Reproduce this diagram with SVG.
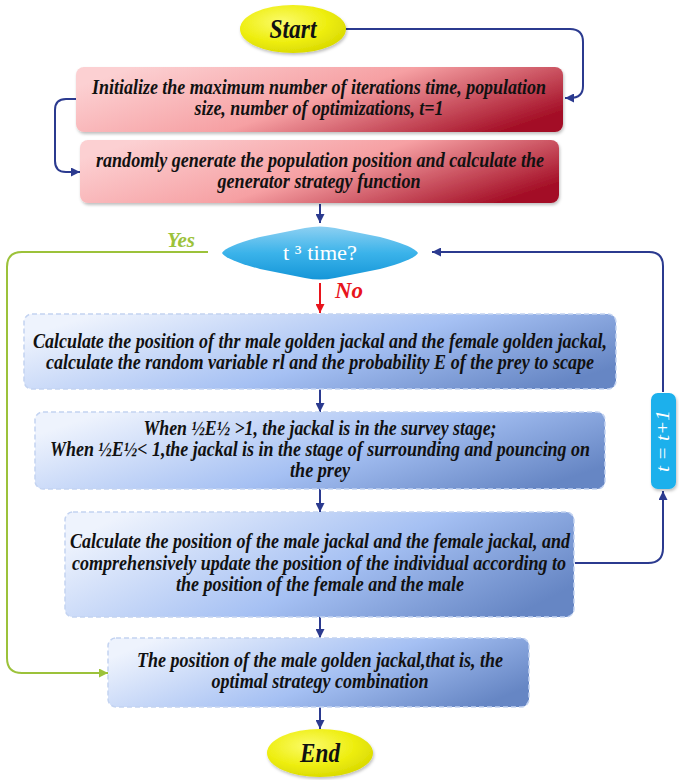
<svg xmlns="http://www.w3.org/2000/svg" width="685" height="780" viewBox="0 0 685 780">
<defs>
<radialGradient id="gY" cx="0.4" cy="0.35" r="0.7">
<stop offset="0" stop-color="#fbfb6a"/>
<stop offset="0.6" stop-color="#eeee10"/>
<stop offset="1" stop-color="#d8d800"/>
</radialGradient>
<linearGradient id="gR" x1="0" y1="0.3" x2="1" y2="0.7">
<stop offset="0" stop-color="#fcd0d2"/>
<stop offset="0.5" stop-color="#f6a0a3"/>
<stop offset="1" stop-color="#a30d25"/>
</linearGradient>
<linearGradient id="gB" x1="0" y1="0.3" x2="1" y2="0.7">
<stop offset="0" stop-color="#eef3fd"/>
<stop offset="0.55" stop-color="#a5c0f3"/>
<stop offset="1" stop-color="#6686c4"/>
</linearGradient>
<linearGradient id="gD" x1="0" y1="0" x2="0" y2="1">
<stop offset="0" stop-color="#8dd0f2"/>
<stop offset="0.5" stop-color="#3bb3ea"/>
<stop offset="1" stop-color="#1596d8"/>
</linearGradient>
<marker id="aN" viewBox="0 0 10 10" refX="10" refY="5" markerWidth="4.5" markerHeight="4.5" orient="auto" markerUnits="strokeWidth">
<path d="M0,0 L10,5 L0,10 z" fill="#2b3a8f"/>
</marker>
<marker id="aG" viewBox="0 0 10 10" refX="10" refY="5" markerWidth="4.5" markerHeight="4.5" orient="auto" markerUnits="strokeWidth">
<path d="M0,0 L10,5 L0,10 z" fill="#9cc23a"/>
</marker>
<marker id="aRd" viewBox="0 0 10 10" refX="10" refY="5" markerWidth="4.5" markerHeight="4.5" orient="auto" markerUnits="strokeWidth">
<path d="M0,0 L10,5 L0,10 z" fill="#e8141c"/>
</marker>
<filter id="sh" x="-10%" y="-10%" width="120%" height="130%">
<feDropShadow dx="1" dy="2" stdDeviation="1.5" flood-color="#000" flood-opacity="0.25"/>
</filter>
</defs>
<style>
.t{font-family:"Liberation Serif","Times New Roman",serif;font-weight:bold;font-style:italic;font-size:20px;fill:#111;text-anchor:middle}
.big{font-size:27px}
.red{fill:url(#gR)}
.blue{fill:url(#gB);stroke:#c3d3f1;stroke-width:1.5;stroke-dasharray:5 3}
.c{fill:none;stroke:#2b3a8f;stroke-width:2}
</style>
<rect width="685" height="780" fill="#fff"/>
<g id="connectors">
<path class="c" d="M345,29 H570 Q583,29 583,42 V86 Q583,98 570,98 H565" marker-end="url(#aN)"/>
<path class="c" d="M76,99 H66 Q55,99 55,110 V161 Q55,172 66,172 H80" marker-end="url(#aN)"/>
<path class="c" d="M320,204 V223" marker-end="url(#aN)"/>
<path fill="none" stroke="#9cc23a" stroke-width="2" d="M208,252 H22 Q7,252 7,267 V658 Q7,673 22,673 H108" marker-end="url(#aG)"/>
<path fill="none" stroke="#e8141c" stroke-width="2" d="M320,283 V313" marker-end="url(#aRd)"/>
<path class="c" d="M663,392 V266 Q663,252 649,252 H432" marker-end="url(#aN)"/>
<path class="c" d="M575,563 H648 Q663,563 663,548 V491" marker-end="url(#aN)"/>
<path class="c" d="M320,389 V412" marker-end="url(#aN)"/>
<path class="c" d="M320,489 V512" marker-end="url(#aN)"/>
<path class="c" d="M320,617 V638" marker-end="url(#aN)"/>
<path class="c" d="M320,707 V729" marker-end="url(#aN)"/>
<text class="t" x="181" y="247" textLength="28" lengthAdjust="spacingAndGlyphs" style="fill:#9cc23a;font-size:22px">Yes</text>
<text class="t" x="349" y="298" textLength="28" lengthAdjust="spacingAndGlyphs" style="fill:#e8141c;font-size:24px">No</text>
</g>
<g id="start">
<ellipse cx="293" cy="29" rx="53" ry="24" fill="url(#gY)" filter="url(#sh)"/>
<text class="t big" x="293" y="38" textLength="47" lengthAdjust="spacingAndGlyphs">Start</text>
</g>
<g id="init">
<rect class="red" x="76" y="67" width="487" height="65" rx="8" filter="url(#sh)"/>
<text class="t" x="319" y="94" textLength="454" lengthAdjust="spacingAndGlyphs">Initialize the maximum number of iterations time, population</text>
<text class="t" x="319" y="115" textLength="249" lengthAdjust="spacingAndGlyphs">size, number of optimizations, t=1</text>
</g>
<g id="generate">
<rect class="red" x="80" y="140" width="479" height="63" rx="8" filter="url(#sh)"/>
<text class="t" x="320" y="167" textLength="448" lengthAdjust="spacingAndGlyphs">randomly generate the population position and calculate the</text>
<text class="t" x="319" y="188" textLength="203" lengthAdjust="spacingAndGlyphs">generator strategy function</text>
</g>
<g id="decision">
<path d="M222,253 Q226,246 260,237 L305,228 Q320,225 335,228 L380,237 Q414,246 418,253 Q414,260 380,269 L335,278 Q320,281 305,278 L260,269 Q226,260 222,253 Z" fill="url(#gD)"/>
<text x="320" y="260" textLength="74" lengthAdjust="spacingAndGlyphs" style="font-family:'Liberation Serif','Times New Roman',serif;font-size:21px;fill:#fff;text-anchor:middle">t ³ time?</text>
</g>
<g id="calc1">
<rect class="blue" x="24" y="314" width="592" height="75" rx="8"/>
<text class="t" x="320" y="348" textLength="574" lengthAdjust="spacingAndGlyphs">Calculate the position of thr male golden jackal and the female golden jackal,</text>
<text class="t" x="320" y="369" textLength="548" lengthAdjust="spacingAndGlyphs">calculate the random variable rl and the probability E of the prey to scape</text>
</g>
<g id="stage">
<rect class="blue" x="35" y="412" width="570" height="77" rx="8"/>
<text class="t" x="320" y="435" textLength="353" lengthAdjust="spacingAndGlyphs">When ½E½ &gt;1, the jackal is in the survey stage;</text>
<text class="t" x="320" y="456" textLength="540" lengthAdjust="spacingAndGlyphs">When ½E½&lt; 1,the jackal is in the stage of surrounding and pouncing on</text>
<text class="t" x="320" y="477" textLength="60" lengthAdjust="spacingAndGlyphs">the prey</text>
</g>
<g id="update">
<rect class="blue" x="65" y="512" width="509" height="105" rx="8"/>
<text class="t" x="320" y="548" textLength="500" lengthAdjust="spacingAndGlyphs">Calculate the position of the male jackal and the female jackal, and</text>
<text class="t" x="319" y="570" textLength="494" lengthAdjust="spacingAndGlyphs">comprehensively update the position of the individual according to</text>
<text class="t" x="320" y="591" textLength="288" lengthAdjust="spacingAndGlyphs">the position of the female and the male</text>
</g>
<g id="increment">
<rect x="651" y="393" width="25" height="96" rx="7" fill="#1ab0ec" filter="url(#sh)"/>
<text transform="translate(669,441) rotate(-90)" x="0" y="0" textLength="62" lengthAdjust="spacingAndGlyphs" style="font-family:'Liberation Serif','Times New Roman',serif;font-style:italic;font-size:19px;fill:#fff;text-anchor:middle">t = t+1</text>
</g>
<g id="result">
<rect class="blue" x="108" y="638" width="421" height="69" rx="8"/>
<text class="t" x="320" y="667" textLength="366" lengthAdjust="spacingAndGlyphs">The position of the male golden jackal,that is, the</text>
<text class="t" x="320" y="688" textLength="217" lengthAdjust="spacingAndGlyphs">optimal strategy combination</text>
</g>
<g id="end">
<ellipse cx="320" cy="753" rx="53" ry="24" fill="url(#gY)" filter="url(#sh)"/>
<text class="t big" x="320" y="762" textLength="40" lengthAdjust="spacingAndGlyphs">End</text>
</g>
</svg>
